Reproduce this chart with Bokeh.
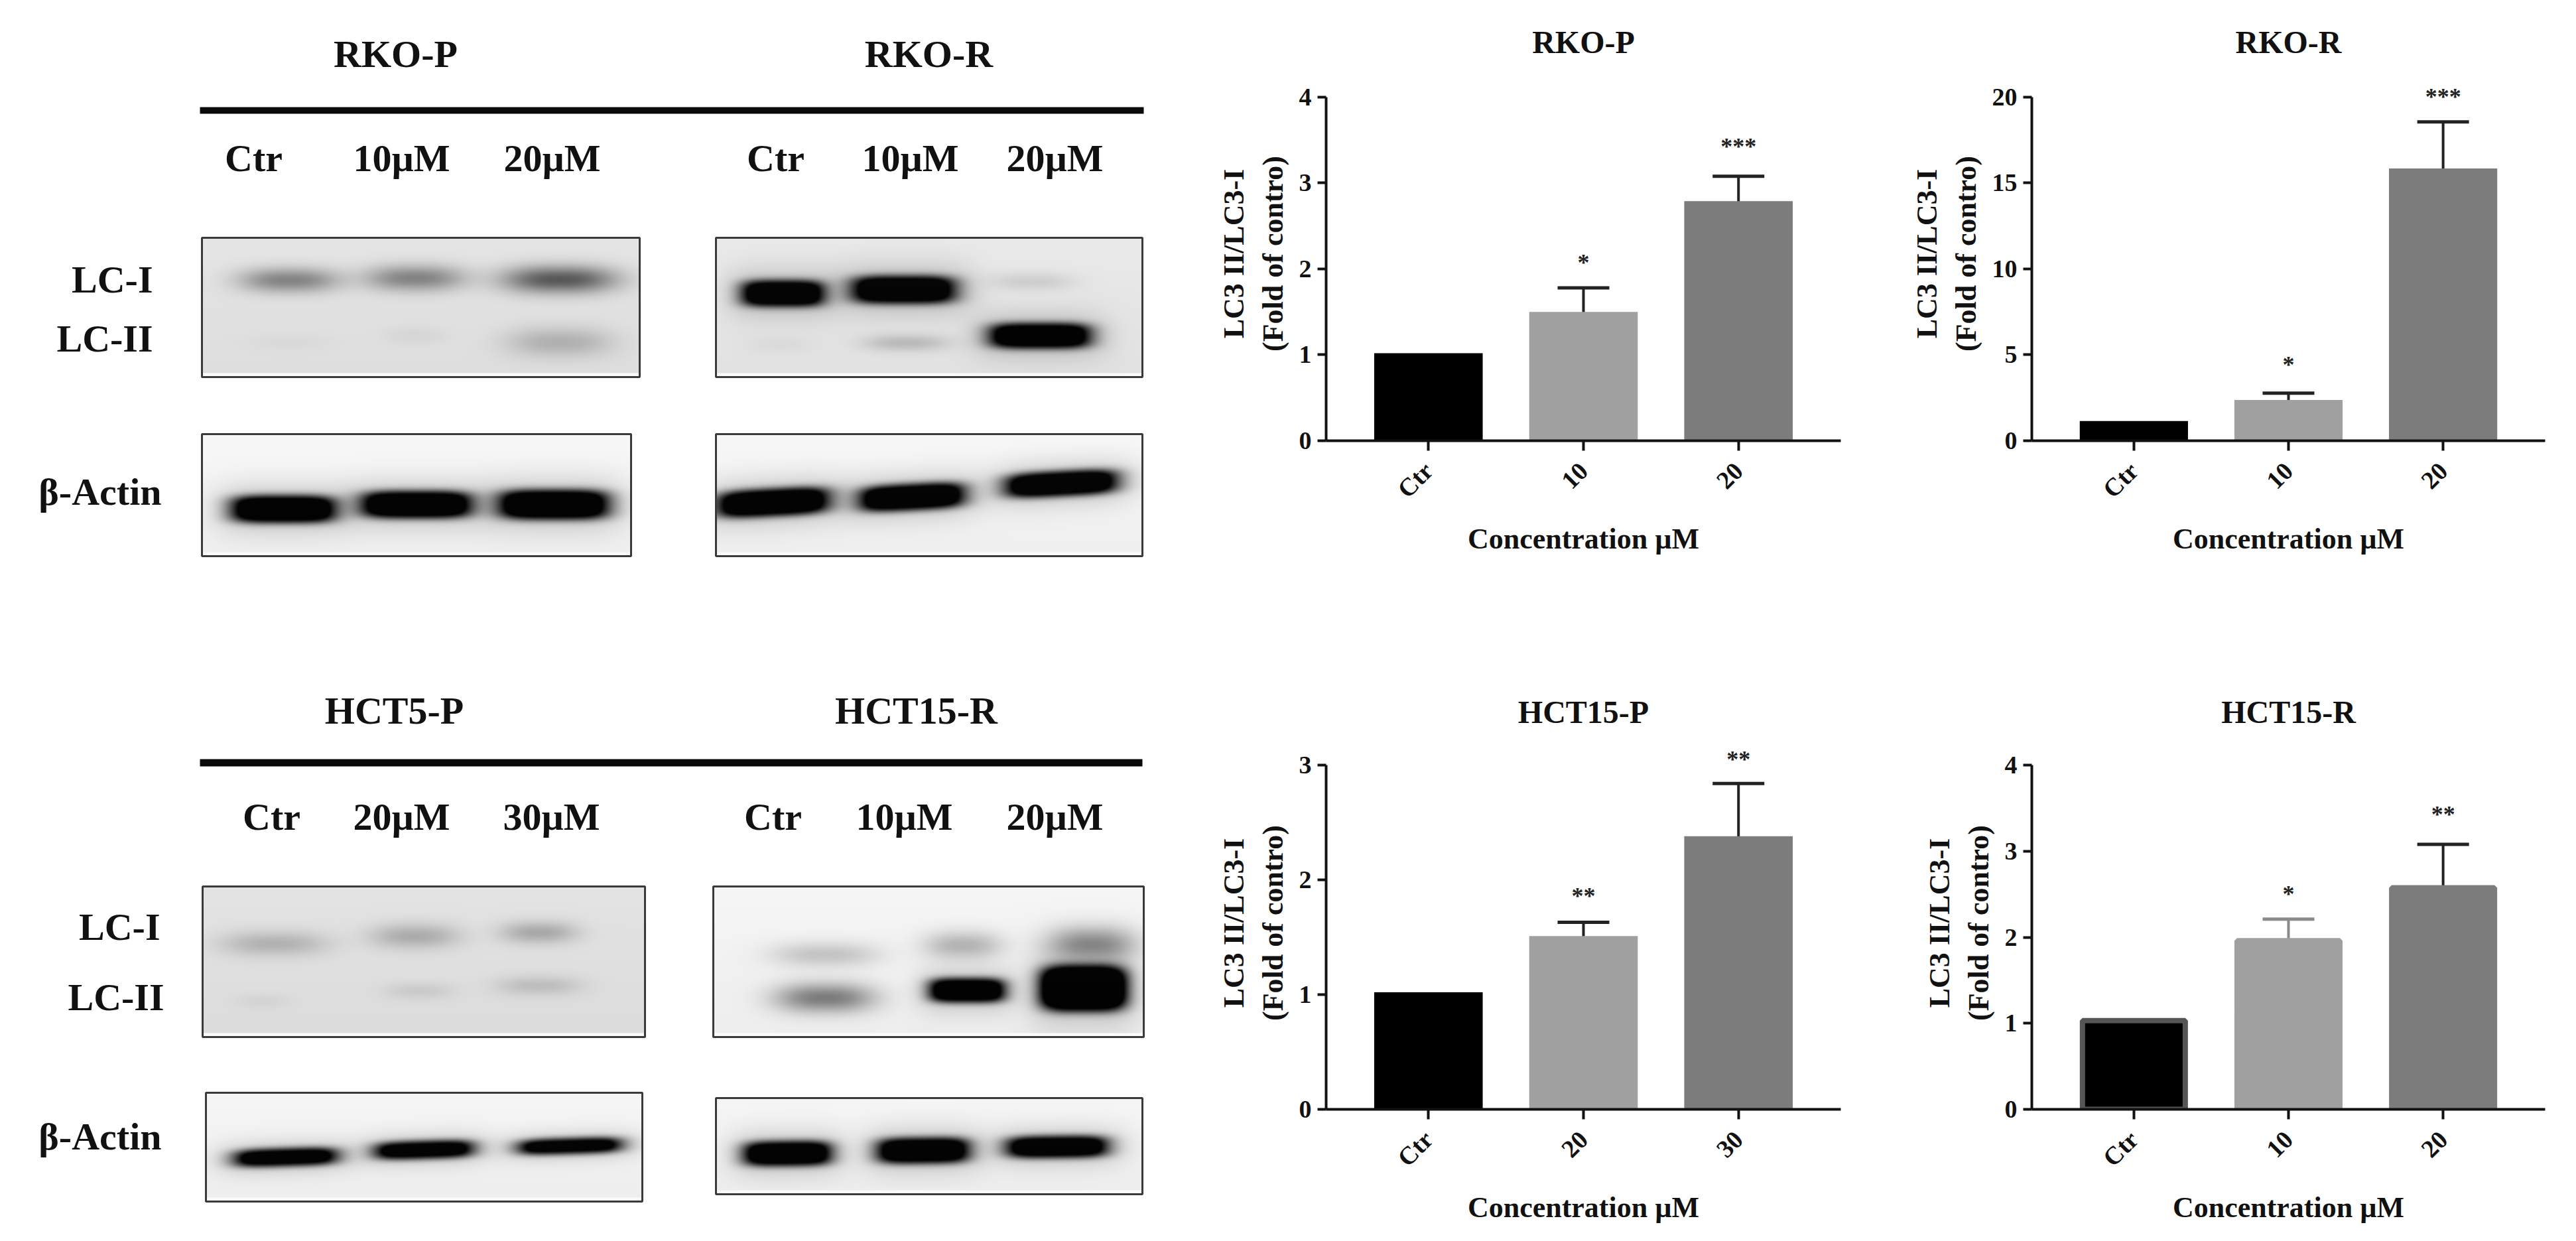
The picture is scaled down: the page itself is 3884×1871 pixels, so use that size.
import math
import numpy as np
from bokeh.plotting import figure
from bokeh.layouts import row, column
from bokeh.models import ColumnDataSource, FactorRange, FixedTicker, Range1d, TeeHead, Whisker
from bokeh.core.properties import value
from bokeh.embed import file_html
from bokeh.resources import INLINE

FONT = "Liberation Serif"

# ---------- chart data ----------
rko_p_cats = ["Ctr", "10", "20"]
rko_p_vals = [1.02, 1.50, 2.79]
rko_p_tops = [None, 1.78, 3.08]
rko_p_star = ["", "*", "***"]
rko_p_star_y = [None, 2.09, 3.44]
rko_p_ticks = [0, 1, 2, 3, 4]

rko_r_cats = ["Ctr", "10", "20"]
rko_r_vals = [1.15, 2.37, 15.85]
rko_r_tops = [None, 2.77, 18.56]
rko_r_star = ["", "*", "***"]
rko_r_star_y = [None, 4.48, 20.1]
rko_r_ticks = [0, 5, 10, 15, 20]

hct_p_cats = ["Ctr", "20", "30"]
hct_p_vals = [1.02, 1.51, 2.38]
hct_p_tops = [None, 1.63, 2.84]
hct_p_star = ["", "**", "**"]
hct_p_star_y = [None, 1.87, 3.06]
hct_p_ticks = [0, 1, 2, 3]

hct_r_cats = ["Ctr", "10", "20"]
hct_r_vals = [1.03, 1.96, 2.575]
hct_r_tops = [None, 2.21, 3.08]
hct_r_star = ["", "*", "**"]
hct_r_star_y = [None, 2.52, 3.44]
hct_r_ticks = [0, 1, 2, 3, 4]

BAR_COLORS = ["#000000", "#a0a0a0", "#7c7c7c"]


def chart(title, cats, vals, tops, stars, star_y, ticks, W, H, L, R, T, B, ext,
          bar_lines=None, err_colors=None):
    end = ticks[-1] * ext
    p = figure(width=W, height=H, min_border_left=L, min_border_right=R, min_border_top=T,
               min_border_bottom=B, x_range=FactorRange(*cats, range_padding=0.16, range_padding_units="absolute"),
               y_range=Range1d(0, end), output_backend="svg", toolbar_location=None,
               title=title, x_axis_label="Concentration \u00b5M",
               y_axis_label="LC3 II/LC3-I\n(Fold of contro)")
    p.outline_line_color = None
    p.grid.visible = False
    p.title.align = "center"
    p.title.text_font = FONT
    p.title.text_font_style = "bold"
    p.title.text_font_size = "48px"
    p.title.text_color = "#111111"
    p.title.standoff = 22
    for ax in (p.xaxis[0], p.yaxis[0]):
        ax.axis_line_width = 4
        ax.axis_line_color = "#111111"
        ax.major_tick_line_width = 4
        ax.major_tick_line_color = "#111111"
        ax.major_tick_in = 0
        ax.minor_tick_line_color = None
        ax.major_label_text_font = FONT
        ax.major_label_text_font_style = "bold"
        ax.major_label_text_font_size = "38px"
        ax.major_label_text_color = "#111111"
        ax.axis_label_text_font = FONT
        ax.axis_label_text_font_style = "bold"
        ax.axis_label_text_font_size = "44px"
        ax.axis_label_text_color = "#111111"
    p.xaxis[0].major_tick_out = 15
    p.yaxis[0].major_tick_out = 13
    p.xaxis[0].major_label_orientation = math.pi / 4
    p.xaxis[0].major_label_standoff = 24
    p.xaxis[0].axis_label_standoff = 12
    p.yaxis[0].ticker = FixedTicker(ticks=ticks)
    p.yaxis[0].bounds = (ticks[0], ticks[-1])
    p.yaxis[0].major_label_standoff = 9
    p.yaxis[0].axis_label_standoff = 12

    src = ColumnDataSource(dict(x=cats, top=vals, color=BAR_COLORS,
                                line=bar_lines or BAR_COLORS))
    p.vbar(x="x", top="top", width=0.665 if bar_lines else 0.7, source=src, fill_color="color",
           line_color="line" if bar_lines else None, line_width=8 if bar_lines else 0)

    for c, v, t in zip(cats, vals, tops):
        if t is None:
            continue
        col = (err_colors or {}).get(c, "#222222")
        s = ColumnDataSource(dict(base=[c], lower=[v - 0.02 * ticks[-1] / 4], upper=[t]))
        p.add_layout(Whisker(base="base", lower="lower", upper="upper", source=s, dimension="height",
                             line_width=4, line_color=col, lower_head=None,
                             upper_head=TeeHead(size=78, line_width=5, line_color=col)))

    sx = [c for c, y in zip(cats, star_y) if y is not None]
    sy = [y for y in star_y if y is not None]
    st = [s for s, y in zip(stars, star_y) if y is not None]
    p.text(x=sx, y=sy, text=st, text_align="center", text_baseline="middle",
           text_font=value(FONT), text_font_style="bold", text_font_size="36px",
           text_color="#222222", y_offset=2)
    return p


# ---------- blots (layout of the photographed membranes, in panel fractions) ----------
# each band: cx, cy, half width, half height, darkness
PANEL_BANDS = [
    # x0, x1, y0, y1, background, tilt, bands
    (304, 964, 358, 568, 222, 0.0, [(.20, .305, .113, .085, .45), (.487, .29, .113, .09, .45), (.817, .30, .13, .095, .65),
                                    (.487, .70, .07, .06, .05), (.817, .75, .12, .105, .22), (.2, .75, .1, .05, .03)]),
    (1079, 1722, 358, 568, 226, 0.0, [(.157, .40, .095, .09, 1.5), (.44, .373, .12, .095, 1.5), (.74, .313, .1, .06, .12),
                                      (.152, .768, .08, .06, .04), (.446, .755, .1, .055, .2), (.76, .704, .115, .085, 1.6)]),
    (304, 951, 654, 838, 240, 0.0, [(.19, .615, .118, .105, 1.6), (.50, .578, .125, .105, 1.6), (.82, .578, .125, .115, 1.6)]),
    (1079, 1722, 654, 838, 240, -0.18, [(.134, .56, .128, .105, 1.6), (.46, .516, .12, .10, 1.6), (.81, .406, .128, .095, 1.6)]),
    (305, 972, 1336, 1563, 220, 0.0, [(.162, .38, .12, .08, .22), (.48, .33, .10, .08, .25), (.76, .306, .086, .07, .27),
                                      (.136, .76, .06, .04, .05), (.49, .694, .077, .05, .1), (.76, .66, .095, .06, .16)]),
    (1075, 1724, 1336, 1563, 238, 0.0, [(.26, .453, .125, .08, .2), (.58, .39, .09, .09, .27), (.88, .38, .1, .11, .4),
                                        (.26, .74, .115, .095, .5), (.59, .69, .085, .075, 1.6), (.86, .677, .095, .14, 2.2)]),
    (310, 968, 1647, 1811, 238, -0.12, [(.183, .593, .115, .075, 1.5), (.50, .525, .11, .075, 1.5), (.834, .49, .115, .065, 1.5)]),
    (1079, 1722, 1655, 1800, 238, -0.05, [(.168, .577, .10, .12, 1.6), (.486, .546, .105, .125, 1.6), (.80, .508, .115, .105, 1.6)]),
]


def blur(a, r=4):
    k = np.ones(2 * r + 1) / (2 * r + 1)
    for _ in range(2):
        pad = np.pad(a, r, mode="edge")
        a = np.apply_along_axis(lambda m: np.convolve(m, k, mode="valid"), 0, pad)[:, r:-r]
        pad = np.pad(a, r, mode="edge")
        a = np.apply_along_axis(lambda m: np.convolve(m, k, mode="valid"), 1, pad)[r:-r, :]
    return a


def blot_image(w, h, bg, tilt, bands):
    xs = (np.arange(w) + 0.5) / w
    ys = (np.arange(h) + 0.5) / h
    X, Y = np.meshgrid(xs, ys)
    dark = np.zeros_like(X)
    for cx, cy, wx, wy, d in bands:
        dx = (X - cx) / wx
        dy = (Y - cy - tilt * (X - cx)) / wy
        if d > 1:
            dark += d * np.exp(-dx**4 - dy**4)
            dark += 0.22 * np.exp(-(dx / 1.35)**4 - (dy / 1.9)**2)
        else:
            dark += d * np.exp(-np.abs(dx)**2.6 - dy**2)
    dark = blur(np.clip(dark, 0, 1.15))
    g = bg * (1 - np.clip(dark, 0, 1))
    g = g + 8 * (1 - Y)  # lighter top
    g[-6:, :] = 250  # pale strip at the foot of each membrane
    g = np.clip(g, 0, 255).astype(np.uint32)
    return (255 << 24) | (g << 16) | (g << 8) | g


left = figure(width=1800, height=1850, x_range=Range1d(0, 1800), y_range=Range1d(-1850, 0),
              x_axis_location=None, y_axis_location=None, output_backend="svg", toolbar_location=None,
              min_border=0)
left.outline_line_color = None
left.grid.visible = False

for x0, x1, y0, y1, bg, tilt, bands in PANEL_BANDS:
    img = blot_image(x1 - x0, y1 - y0, bg, tilt, bands)
    left.image_rgba(image=[img[::-1]], x=x0, y=-y1, dw=x1 - x0, dh=y1 - y0)
    left.quad(left=x0, right=x1, top=-y0, bottom=-y1, fill_color=None, line_color="#3a3a3a", line_width=3)

left.quad(left=[301, 301], right=[1724, 1722], top=[-161, -1144], bottom=[-171, -1155],
          fill_color="#0a0a0a", line_color=None)


def txt(x, y, s, size="58px", align="center"):
    left.text(x=[x], y=[-y], text=[s], text_align=align, text_baseline="middle", text_font=value(FONT),
              text_font_style="bold", text_font_size=size, text_color="#111111")


txt(596, 81, "RKO-P"); txt(1400, 81, "RKO-R")
txt(382, 238, "Ctr"); txt(605, 238, "10\u00b5M"); txt(832, 238, "20\u00b5M")
txt(1169, 238, "Ctr"); txt(1372, 238, "10\u00b5M"); txt(1590, 238, "20\u00b5M")
txt(230, 421, "LC-I", align="right"); txt(230, 510, "LC-II", align="right")
txt(243, 741, "\u03b2-Actin", align="right")
txt(594, 1071, "HCT5-P"); txt(1381, 1071, "HCT15-R")
txt(409, 1231, "Ctr"); txt(605, 1231, "20\u00b5M"); txt(831, 1231, "30\u00b5M")
txt(1165, 1231, "Ctr"); txt(1363, 1231, "10\u00b5M"); txt(1590, 1231, "20\u00b5M")
txt(241, 1397, "LC-I", align="right"); txt(247, 1503, "LC-II", align="right")
txt(243, 1713, "\u03b2-Actin", align="right")

c1 = chart("RKO-P", rko_p_cats, rko_p_vals, rko_p_tops, rko_p_star, rko_p_star_y, rko_p_ticks,
           1000, 950, 198, 25, 100, 286, 1.0888)
c2 = chart("RKO-R", rko_r_cats, rko_r_vals, rko_r_tops, rko_r_star, rko_r_star_y, rko_r_ticks,
           1060, 950, 263, 23, 100, 286, 1.0888)
c3 = chart("HCT15-P", hct_p_cats, hct_p_vals, hct_p_tops, hct_p_star, hct_p_star_y, hct_p_ticks,
           1000, 900, 199, 18, 160, 178, 1.0829)
c4 = chart("HCT15-R", hct_r_cats, hct_r_vals, hct_r_tops, hct_r_star, hct_r_star_y, hct_r_ticks,
           1060, 900, 254, 23, 160, 178, 1.0829,
           bar_lines=["#555555", "#a0a0a0", "#7c7c7c"], err_colors={"10": "#8a8a8a"})

layout = row(left, column(c1, c3, spacing=0), column(c2, c4, spacing=0), spacing=0)
open("out.html", "w").write(file_html(layout, INLINE))
